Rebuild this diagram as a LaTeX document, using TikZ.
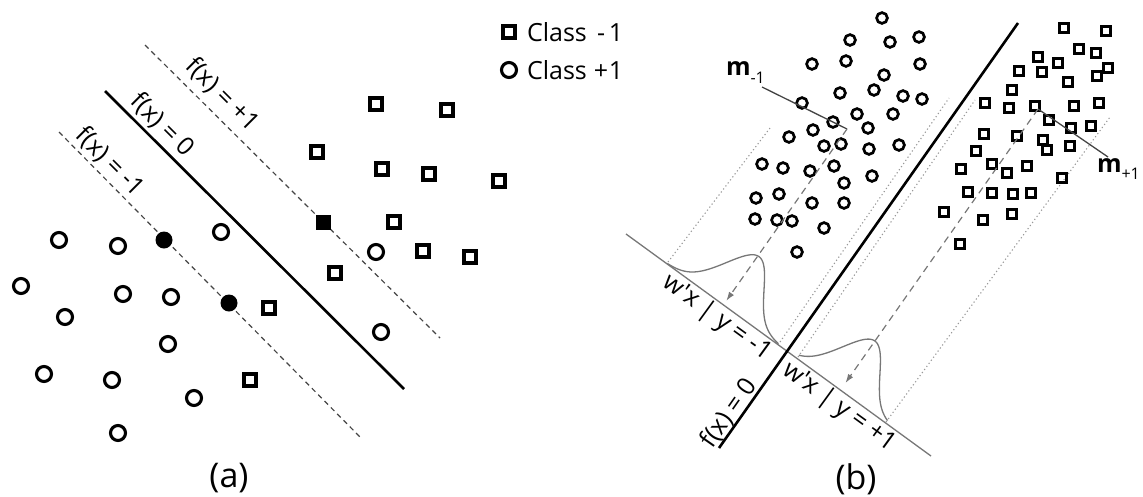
\documentclass[tikz,border=0pt]{standalone}
\usepackage{fontspec}
\setmainfont{Open Sans}
\usetikzlibrary{arrows.meta}
\definecolor{lgray}{HTML}{777777}
\definecolor{dgray}{HTML}{444444}
\definecolor{pgray}{HTML}{999999}
\begin{document}
\begin{tikzpicture}[x=1pt,y=-1pt,
  every node/.style={inner sep=0pt,outer sep=0pt},
  lbl/.style={font=\fontsize{25}{29}\selectfont},
  captext/.style={font=\fontsize{34}{40}\selectfont},
  ocirc/.style={circle,draw,line width=3.1pt,minimum size=15pt},
  osq/.style={rectangle,draw,line width=3.1pt,minimum size=12pt},
  fcirc/.style={circle,fill,minimum size=17pt},
  fsq/.style={rectangle,fill,minimum size=15pt},
  scirc/.style={circle,draw,line width=2.7pt,minimum size=10.8pt},
  ssq/.style={rectangle,draw,line width=2.7pt,minimum size=8.4pt},
  hyper/.style={line width=2.6pt},
  margin/.style={draw=dgray,line width=1.2pt,dash pattern=on 5pt off 4pt},
  axisline/.style={draw=lgray,line width=1.3pt},
  proj/.style={draw=lgray,line width=1.2pt,dash pattern=on 7pt off 5pt},
  bound/.style={draw=pgray,line width=1.1pt,dash pattern=on 1.2pt off 2.6pt},
  bell/.style={draw=lgray,line width=1.3pt},
  tip/.style={-{Latex[length=9pt,width=6pt]}}
]
\useasboundingbox (0,0) rectangle (1143,496);

% ---------------- panel (a): maximum margin classifier ----------------
\coordinate (pa) at (145,45);  \coordinate (pb) at (440,338);
\coordinate (za) at (105,91);  \coordinate (zb) at (404,389);
\coordinate (na) at (59,132);  \coordinate (nb) at (362,439);
\draw[margin] (pa) -- (pb);
\draw[hyper]  (za) -- (zb);
\draw[margin] (na) -- (nb);

\node[lbl,rotate=-45] (lplus) at (222,95)  {f(x) = +1};
\node[lbl,rotate=-45] (lzero) at (162,125) {f(x) = 0};
\node[lbl,rotate=-45] (lminus) at (110,162) {f(x) = -1};

\foreach \px/\py [count=\i] in {59/240,118/246,221/232,21/286,123/294,171/297,
    65/317,168/344,44/374,112/380,194/398,118/433,376/252,381/332}
  {\node[ocirc] (ac\i) at (\px,\py) {};}
\foreach \px/\py [count=\i] in {164/240,229/303}
  {\node[fcirc] (af\i) at (\px,\py) {};}
\foreach \px/\py [count=\i] in {269/308,250/380,376/104,447/110,317/152,382/169,
    429/174,499/181,394/222,423/251,470/257,335/273}
  {\node[osq] (as\i) at (\px,\py) {};}
\node[fsq] (afs) at (323,222) {};

\node[captext] (capa) at (229,478) {(a)};

% legend
\node[osq] (legsq) at (509,32) {};
\node[ocirc] (legci) at (509,70) {};
\node[lbl,anchor=base west] (legsqt) at (527,41) {Class \makebox[0.62em][c]{-}1};
\node[lbl,anchor=base west] (legcit) at (527,79) {Class \makebox[0.62em][c]{+}1};

% ---------------- panel (b): projections onto w ----------------
\coordinate (rt) at (1018,23);  \coordinate (rb) at (719,448);
\coordinate (xa) at (626,234);  \coordinate (xb) at (931,456);
\coordinate (M1) at (847,129);  \coordinate (M2) at (1038,109);
\coordinate (A1) at (726.3,300.8); \coordinate (A2) at (845.4,383);
\coordinate (m1tail) at (762,87); \coordinate (m2tail) at (1108,157);

% dotted extents of each class along w
\draw[bound] (668,262) -- (770,128);
\draw[bound] (780,342) -- (949,98);
\draw[bound] (798,357) -- (975,100);
\draw[bound] (886,422) -- (1110,117);

\draw[axisline] (xa) -- (xb);
\draw[hyper] (rt) -- (rb);

% class-conditional densities of w'x
\draw[bell] plot[domain=-71:66,samples=90,smooth]
  ({724.5+0.8086*\x+0.575*60*exp(-\x*\x/1058)},{305.7+0.5886*\x-0.818*60*exp(-\x*\x/1058)});
\draw[bell] plot[domain=-54:56,samples=90,smooth]
  ({840.4+0.8086*\x+0.575*60*exp(-\x*\x/1058)},{390.1+0.5886*\x-0.818*60*exp(-\x*\x/1058)});

\foreach \px/\py [count=\i] in {882/18,850/40,890/42,919/37,812/64,846/61,920/64,
    884/75,840/93,874/90,903/96,922/99,802/103,857/114,893/114,833/122,813/130,
    868/128,789/137,824/146,841/144,869/149,899/145,762/164,783/168,810/171,
    834/166,872/176,844/183,756/198,779/194,812/203,844/203,755/219,777/220,
    792/221,824/228,797/252}
  {\node[scirc] (bc\i) at (\px,\py) {};}
\foreach \px/\py [count=\i] in {1064/28,1106/31,1079/49,1096/53,1038/57,1058/63,
    1108/68,1019/71,1042/72,1097/76,1068/82,1012/90,985/103,1009/108,1035/106,
    1074/106,1099/103,1049/120,1071/128,1091/126,984/134,1017/136,1043/140,
    1047/150,1070/146,976/151,961/169,992/164,1007/173,1027/166,1062/178,
    968/192,992/193,1013/194,1031/193,944/212,983/220,1012/214,960/244}
  {\node[ssq] (bs\i) at (\px,\py) {};}

% class means and their projections
\node[font=\bfseries\fontsize{25}{29}\selectfont,anchor=base west] (mneg) at (726,75)
  {m\raisebox{-8pt}{\fontsize{16}{18}\mdseries\selectfont -1}};
\node[font=\bfseries\fontsize{25}{29}\selectfont,anchor=base west] (mpos) at (1097,172)
  {m\raisebox{-7pt}{\fontsize{16}{18}\mdseries\selectfont +1}};
\draw[axisline,draw=dgray] (m1tail) -- (M1);
\draw[axisline,draw=dgray] (M2) -- (m2tail);
\draw[proj,tip] (M1) -- (A1);
\draw[proj,tip] (M2) -- (A2);

\node[lbl,rotate=55]  (bzero) at (729,413) {f(x) = 0};
\node[lbl,rotate=-36] (wneg) at (717,318) {w\textquotesingle x | y = -1};
\node[lbl,rotate=-36] (wpos) at (839,407) {w\textquotesingle x | y = +1};

\node[captext] (capb) at (856,479) {(b)};
\end{tikzpicture}
\end{document}
